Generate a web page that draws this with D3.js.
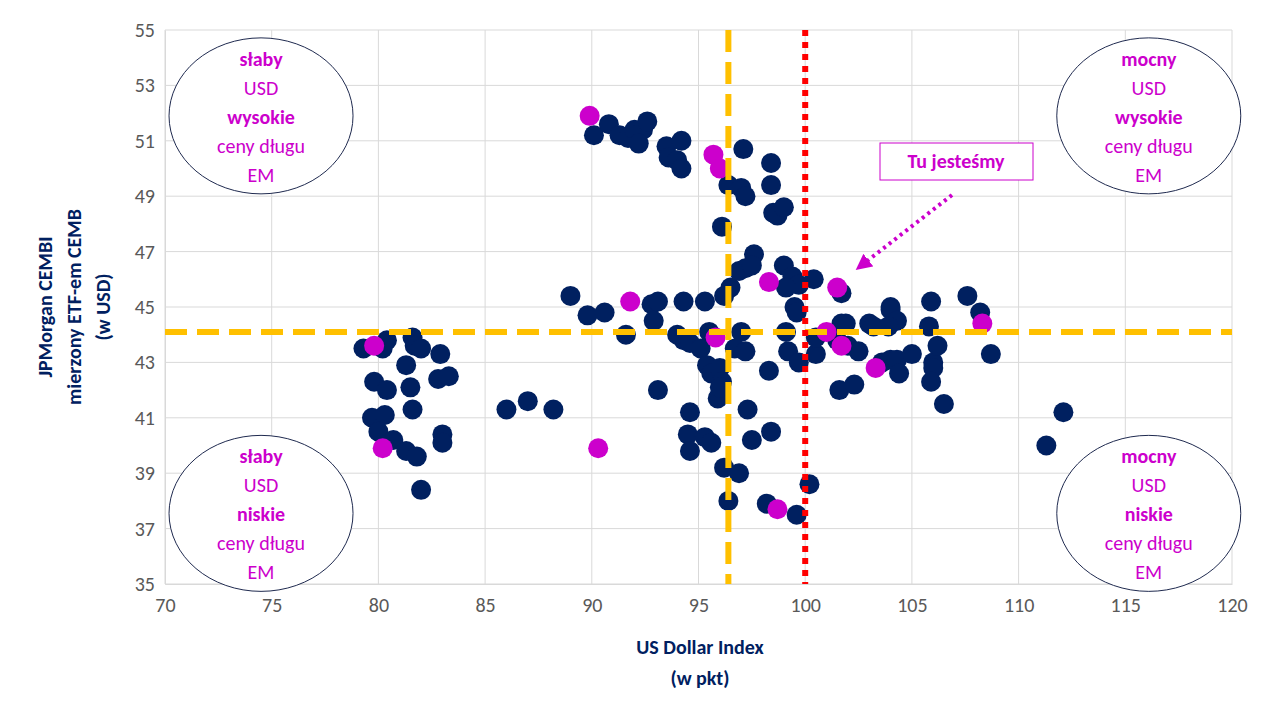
<!DOCTYPE html>
<html><head><meta charset="utf-8">
<script src="https://cdn.jsdelivr.net/npm/d3@7"></script>
<style>body{margin:0;background:#fff}text{font-family:Calibri,Carlito,"Liberation Sans",Arial,sans-serif}</style>
</head><body><svg></svg>
<script>
var navyPoints = [
[79.3,43.5],[80.2,43.5],[80.4,43.8],[81.6,43.9],[81.7,43.6],[82.0,43.5],[82.9,43.3],[81.3,42.9],[79.8,42.3],[80.4,42.0],
[81.5,42.1],[82.8,42.4],[83.3,42.5],[81.6,41.3],[79.7,41.0],[80.3,41.1],[80.0,40.5],[80.7,40.2],[81.3,39.8],[81.8,39.6],
[83.0,40.4],[83.0,40.1],[82.0,38.4],[86.0,41.3],[87.0,41.6],[88.2,41.3],[89.0,45.4],[89.8,44.7],[90.6,44.8],[91.6,44.0],
[93.1,42.0],[92.8,45.1],[93.1,45.2],[92.9,44.5],[94.0,44.0],[94.3,45.2],[94.3,43.8],[94.6,43.7],[95.3,45.2],[95.1,43.5],
[95.5,44.1],[95.4,42.9],[95.6,42.6],[96.0,42.8],[96.1,42.3],[95.9,41.7],[96.0,42.1],[94.6,41.2],[94.5,40.4],[95.3,40.3],
[95.6,40.1],[94.6,39.8],[96.2,39.2],[96.4,38.0],[96.1,47.9],[90.1,51.2],[90.8,51.6],[91.3,51.2],[91.7,51.1],[92.0,51.4],
[92.4,51.4],[92.6,51.7],[92.2,50.9],[93.5,50.8],[93.6,50.4],[94.2,51.0],[94.0,50.3],[94.2,50.0],[96.4,49.4],[97.1,50.7],
[97.0,49.3],[97.2,49.0],[98.4,50.2],[98.4,49.4],[98.5,48.4],[98.7,48.3],[99.0,48.6],[96.5,45.7],[96.9,46.3],[97.2,46.4],
[97.6,46.9],[97.5,46.5],[99.0,46.5],[99.4,46.1],[99.7,45.8],[99.1,45.7],[100.4,46.0],[99.5,45.0],[99.6,44.8],[101.7,45.5],
[96.2,45.4],[97.0,44.1],[96.7,43.5],[97.2,43.4],[99.1,44.1],[99.2,43.4],[99.7,43.0],[98.3,42.7],[100.5,43.3],[101.5,43.8],
[101.7,44.4],[101.9,44.4],[102.0,43.6],[102.5,43.4],[103.0,44.4],[103.2,44.3],[103.6,43.0],[104.0,45.0],[104.0,44.9],[104.3,44.5],
[104.0,43.1],[104.3,43.1],[105.0,43.3],[104.4,42.6],[103.9,44.3],[105.8,44.3],[105.9,45.2],[106.0,43.0],[106.0,42.8],[105.9,42.3],
[106.2,43.6],[106.5,41.5],[107.6,45.4],[108.2,44.8],[108.7,43.3],[101.6,42.0],[102.3,42.2],[100.5,43.9],[97.3,41.3],[97.5,40.2],
[96.9,39.0],[98.4,40.5],[98.2,37.9],[99.6,37.5],[100.2,38.6],[111.3,40.0],[112.1,41.2]
];
var magentaPoints = [[79.8,43.6],[80.2,39.9],[90.3,39.9],[91.8,45.2],[95.8,43.9],[89.9,51.9],[95.7,50.5],[96.0,50.0],
[98.3,45.9],[101.5,45.7],[101.0,44.1],[101.7,43.6],[103.3,42.8],[108.3,44.4],[98.7,37.7]];
var xTicks = d3.range(70, 121, 5);
var yTicks = d3.range(35, 56, 2);
var refH = 44.1, refV = 96.4, refNow = 100;
var quadrants = [
  {x: 74.5, y: 51.9, lines: ['słaby','USD','wysokie','ceny długu','EM']},
  {x: 116.1, y: 51.9, lines: ['mocny','USD','wysokie','ceny długu','EM']},
  {x: 74.5, y: 37.55, lines: ['słaby','USD','niskie','ceny długu','EM']},
  {x: 116.1, y: 37.55, lines: ['mocny','USD','niskie','ceny długu','EM']}
];

var svg = d3.select('svg').attr('width',1280).attr('height',720);
var x = d3.scaleLinear().domain([70,120]).range([165,1232]);
var y = d3.scaleLinear().domain([35,55]).range([584,30]);
var navy = '#002060', mag = '#cc00cc';

svg.append('g').selectAll('line').data(xTicks).join('line')
  .attr('x1',d=>x(d)).attr('x2',d=>x(d)).attr('y1',y(35)).attr('y2',y(55))
  .attr('stroke','#d9d9d9');
svg.append('g').selectAll('line').data(yTicks).join('line')
  .attr('x1',x(70)).attr('x2',x(120)).attr('y1',d=>y(d)).attr('y2',d=>y(d))
  .attr('stroke','#d9d9d9');

var xa = svg.append('g').attr('transform','translate(0,'+y(35)+')')
  .call(d3.axisBottom(x).tickValues(xTicks).tickSize(0).tickPadding(14));
var ya = svg.append('g').attr('transform','translate('+x(70)+',0)')
  .call(d3.axisLeft(y).tickValues(yTicks).tickSize(0).tickPadding(10));
[xa,ya].forEach(function(a){
  a.select('.domain').attr('stroke','#d9d9d9');
  a.selectAll('text').attr('font-size',20).attr('fill','#595959');
});

quadrants.forEach(function(q){
  var cx = x(q.x), cy = y(q.y);
  svg.append('ellipse').attr('cx',cx).attr('cy',cy).attr('rx',92).attr('ry',78)
    .attr('fill','#fff').attr('stroke','#1f2a4f').attr('stroke-width',1);
  q.lines.forEach(function(t,i){
    svg.append('text').attr('x',cx).attr('y',cy-57+i*29+7).attr('text-anchor','middle')
      .attr('font-size',20).attr('fill',mag).attr('font-weight',(i==0||i==2)?'bold':'normal').text(t);
  });
});

svg.append('g').selectAll('circle').data(navyPoints).join('circle')
  .attr('cx',d=>x(d[0])).attr('cy',d=>y(d[1])).attr('r',10).attr('fill',navy);
svg.append('g').selectAll('circle').data(magentaPoints).join('circle')
  .attr('cx',d=>x(d[0])).attr('cy',d=>y(d[1])).attr('r',10).attr('fill',mag);

svg.append('line').attr('x1',x(70)).attr('x2',x(120)).attr('y1',y(refH)).attr('y2',y(refH))
  .attr('stroke','#ffc000').attr('stroke-width',6).attr('stroke-dasharray','22,10');
svg.append('line').attr('x1',x(refV)).attr('x2',x(refV)).attr('y1',y(55)).attr('y2',y(35))
  .attr('stroke','#ffc000').attr('stroke-width',6).attr('stroke-dasharray','22,10');
svg.append('line').attr('x1',x(refNow)).attr('x2',x(refNow)).attr('y1',y(55)).attr('y2',y(35))
  .attr('stroke','#ff0000').attr('stroke-width',6).attr('stroke-dasharray','6,6');

svg.append('rect').attr('x',880).attr('y',143).attr('width',153).attr('height',37)
  .attr('fill','#fff').attr('stroke',mag);
svg.append('text').attr('x',956).attr('y',168).attr('text-anchor','middle').attr('font-size',20)
  .attr('font-weight','bold').attr('fill',mag).text('Tu jesteśmy');
svg.append('defs').append('marker').attr('id','ah').attr('viewBox','0 0 10 10').attr('refX',5).attr('refY',5)
  .attr('markerWidth',4).attr('markerHeight',4).attr('orient','auto')
  .append('path').attr('d','M0,0L10,5L0,10z').attr('fill',mag);
svg.append('line').attr('x1',952).attr('y1',195).attr('x2',862).attr('y2',265)
  .attr('stroke',mag).attr('stroke-width',4).attr('stroke-dasharray','3,4').attr('marker-end','url(#ah)');

svg.append('text').attr('x',700).attr('y',654).attr('text-anchor','middle').attr('font-size',20)
  .attr('font-weight','bold').attr('fill',navy).text('US Dollar Index');
svg.append('text').attr('x',700).attr('y',685).attr('text-anchor','middle').attr('font-size',20)
  .attr('font-weight','bold').attr('fill',navy).text('(w pkt)');
['JPMorgan CEMBI','mierzony ETF-em CEMB','(w USD)'].forEach(function(t,i){
  svg.append('text').attr('transform','translate('+(52+i*29)+',307) rotate(-90)')
    .attr('text-anchor','middle').attr('font-size',20).attr('font-weight','bold').attr('fill',navy).text(t);
});
</script></body></html>
